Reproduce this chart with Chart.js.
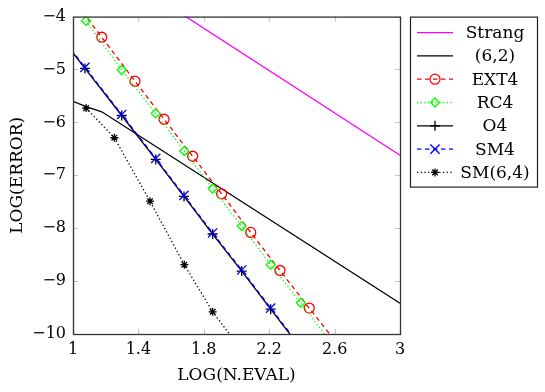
<!DOCTYPE html>
<html>
<head>
<meta charset="utf-8">
<script src="https://cdn.jsdelivr.net/npm/chart.js@4.4.1/dist/chart.umd.min.js"></script>
<style>
  body { margin: 0; background: #fff; }
</style>
</head>
<body>
<canvas id="errChart" width="545" height="392"></canvas>
<script>
// axis ticks
const xTicks = [1, 1.4, 1.8, 2.2, 2.6, 3];
const yTicks = [-4, -5, -6, -7, -8, -9, -10];

// series values (log10 of evaluations / log10 of error)
const strangX = [1.6, 3.0];
const strangY = [-3.82, -6.62];
const o62X = [1.0, 1.08, 1.176, 3.0];
const o62Y = [-5.60, -5.70, -5.80, -9.42];
const ext4X = [1.0, 1.176, 1.379, 1.557, 1.732, 1.909, 2.087, 2.266, 2.445, 2.62];
const ext4Y = [-3.68, -4.39, -5.22, -5.94, -6.64, -7.35, -8.08, -8.80, -9.51, -10.2];
const rc4X = [0.9, 1.080, 1.298, 1.506, 1.681, 1.854, 2.032, 2.209, 2.393, 2.57];
const rc4Y = [-3.36, -4.08, -5.01, -5.83, -6.54, -7.25, -7.96, -8.69, -9.41, -10.13];
const o4X = [0.9, 1.073, 1.298, 1.506, 1.679, 1.854, 2.032, 2.209, 2.386];
const o4Y = [-4.28, -4.98, -5.87, -6.70, -7.40, -8.11, -8.81, -9.53, -10.24];
const sm4X = [0.9, 1.073, 1.298, 1.506, 1.679, 1.854, 2.032, 2.209, 2.386];
const sm4Y = [-4.26, -4.96, -5.85, -6.68, -7.38, -8.09, -8.79, -9.51, -10.22];
const sm64X = [1.08, 1.253, 1.471, 1.681, 1.854, 2.03];
const sm64Y = [-5.73, -6.29, -7.49, -8.69, -9.58, -10.3];

const FONT = "'DejaVu Serif', serif";
const DASHED = [4.5, 3.5];
const DOTTED = [1.3, 2.4];

function pts(xs, ys) {
    return xs.map((x, i) => ({ x: x, y: ys[i] }));
}

function series(label, xs, ys, color, dash, style, radius) {
    return {
        label: label,
        data: pts(xs, ys),
        showLine: true,
        borderColor: color,
        borderWidth: 1.3,
        borderDash: dash,
        pointStyle: style || 'circle',
        pointRadius: radius || 0,
        pointBorderColor: color,
        pointBackgroundColor: 'rgba(0,0,0,0)',
        pointBorderWidth: 1.3,
        tension: 0
    };
}

const datasets = [
    series("Strang", strangX, strangY, "#ff00ff", []),
    series("(6,2)", o62X, o62Y, "#000000", []),
    series("EXT4", ext4X, ext4Y, "#ff0000", DASHED, 'circle', 5),
    series("RC4", rc4X, rc4Y, "#00ff00", DOTTED, 'rectRot', 4.5),
    series("O4", o4X, o4Y, "#000000", [], 'cross', 5),
    series("SM4", sm4X, sm4Y, "#0000ff", DASHED, 'crossRot', 6.5),
    series("SM(6,4)", sm64X, sm64Y, "#000000", DOTTED, 'star', 4)
];
// later series drawn on top, as in the original
datasets.forEach((d, i) => { d.order = datasets.length - i; });

// light tick marks inside the frame + dark frame
const frameTicks = {
    id: "frameTicks",
    afterDatasetsDraw(chart) {
        const ctx = chart.ctx;
        const a = chart.chartArea;
        const xs = chart.scales.x, ys = chart.scales.y;
        const len = 5;
        ctx.save();
        ctx.strokeStyle = "#c4c4c4";
        ctx.lineWidth = 1.2;
        ctx.beginPath();
        xTicks.forEach(v => {
            const px = Math.round(xs.getPixelForValue(v)) + 0.5;
            ctx.moveTo(px, a.bottom); ctx.lineTo(px, a.bottom - len);
            ctx.moveTo(px, a.top); ctx.lineTo(px, a.top + len);
        });
        yTicks.forEach(v => {
            const py = Math.round(ys.getPixelForValue(v)) + 0.5;
            ctx.moveTo(a.left, py); ctx.lineTo(a.left + len, py);
            ctx.moveTo(a.right, py); ctx.lineTo(a.right - len, py);
        });
        ctx.stroke();
        ctx.strokeStyle = "#333";
        ctx.lineWidth = 1.3;
        ctx.strokeRect(a.left + 0.5, a.top + 0.5, a.right - a.left, a.bottom - a.top);
        ctx.restore();
    }
};

// boxed legend to the right, text centred like pgfplots
const boxLegend = {
    id: "boxLegend",
    afterDraw(chart) {
        const ctx = chart.ctx;
        const a = chart.chartArea;
        const left = a.right + 10, top = a.top, w = 127, h = 170;
        const rowH = 23.3;
        ctx.save();
        ctx.fillStyle = "#fff";
        ctx.fillRect(left, top, w, h);
        ctx.strokeStyle = "#222";
        ctx.lineWidth = 1.2;
        ctx.strokeRect(left + 0.5, top + 0.5, w, h);
        chart.data.datasets.forEach((d, i) => {
            const y = top + 16 + i * rowH;
            ctx.strokeStyle = d.borderColor;
            ctx.lineWidth = d.borderWidth;
            ctx.setLineDash(d.borderDash);
            ctx.beginPath();
            ctx.moveTo(left + 7, y);
            ctx.lineTo(left + 43, y);
            ctx.stroke();
            ctx.setLineDash([]);
            if (d.pointRadius > 0) {
                ctx.lineWidth = d.pointBorderWidth;
                ctx.fillStyle = 'rgba(0,0,0,0)';
                Chart.helpers.drawPoint(ctx, {
                    pointStyle: d.pointStyle, radius: d.pointRadius,
                    borderWidth: d.pointBorderWidth, rotation: 0
                }, left + 25, y);
            }
            ctx.fillStyle = "#000";
            ctx.font = "17px " + FONT;
            ctx.textAlign = "center";
            ctx.textBaseline = "middle";
            ctx.fillText(d.label, left + 85, y + 1);
        });
        ctx.restore();
    }
};

const ctx = document.getElementById("errChart").getContext("2d");
new Chart(ctx, {
    type: "scatter",
    data: { datasets: datasets },
    options: {
        responsive: false,
        animation: false,
        layout: { padding: { top: 14, right: 145, left: 0, bottom: 0 } },
        plugins: {
            legend: { display: false },
            tooltip: { enabled: false }
        },
        scales: {
            x: {
                type: "linear",
                min: 1,
                max: 3,
                afterBuildTicks: s => { s.ticks = xTicks.map(v => ({ value: v })); },
                afterFit: s => { s.height = 58; },
                grid: { drawOnChartArea: false, drawTicks: false },
                border: { display: false },
                ticks: {
                    padding: 6,
                    maxRotation: 0,
                    color: "#000",
                    font: { family: FONT, size: 16 },
                    callback: v => String(v)
                },
                title: {
                    display: true,
                    text: "LOG(N.EVAL)",
                    color: "#000",
                    font: { family: FONT, size: 17 },
                    padding: { top: 0, bottom: 6 }
                }
            },
            y: {
                type: "linear",
                min: -10,
                max: -4,
                afterBuildTicks: s => { s.ticks = yTicks.map(v => ({ value: v })); },
                afterFit: s => { s.width = 73; },
                grid: { drawOnChartArea: false, drawTicks: false },
                border: { display: false },
                ticks: {
                    padding: 7,
                    color: "#000",
                    font: { family: FONT, size: 16 },
                    callback: v => String(v).replace("-", "\u2212")
                },
                title: {
                    display: true,
                    text: "LOG(ERROR)",
                    color: "#000",
                    font: { family: FONT, size: 17 },
                    padding: { top: 7, bottom: 0 }
                }
            }
        }
    },
    plugins: [frameTicks, boxLegend]
});
</script>
</body>
</html>
